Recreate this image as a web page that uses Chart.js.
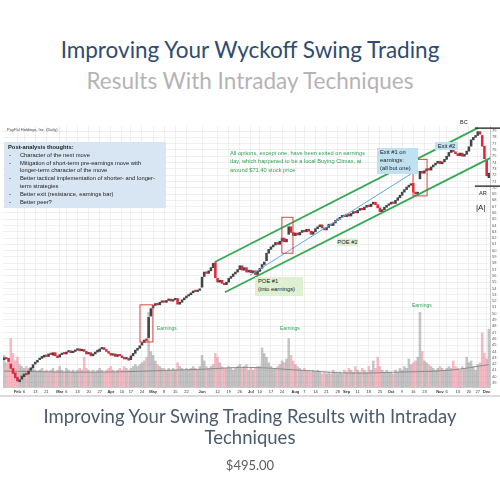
<!DOCTYPE html>
<html>
<head>
<meta charset="utf-8">
<script src="https://cdn.jsdelivr.net/npm/chart.js@4.4.0/dist/chart.umd.min.js"></script>
<style>
  body { margin: 0; width: 500px; height: 500px; background: #fff; position: relative; overflow: hidden; font-family: Lato, 'Open Sans', sans-serif; }
  .t { position: absolute; left: 0; width: 500px; text-align: center; white-space: nowrap; }
  #wrap { position: absolute; left: 0; top: 113px; width: 500px; height: 285px; }
  .note { position: absolute; font-family: 'Liberation Sans', Arial, sans-serif; font-size: 5.8px; line-height: 7.8px; color: #222; white-space: nowrap; }
  .green { color: #2f9e55; }
  .blue { background: #bfe1f1; }
  .lgreen { background: #dff0d2; }
</style>
</head>
<body>
<div class="t" style="top:35px;font-size:22.5px;line-height:30px;color:#2f4c6e;">Improving Your Wyckoff Swing Trading</div>
<div class="t" style="top:66px;font-size:22.5px;line-height:30px;color:#b4b4b4;">Results With Intraday Techniques</div>

<div id="wrap"><canvas id="myChart" width="500" height="285"></canvas></div>
<div style="position:absolute;left:0;top:395px;width:500px;height:2px;background:#dcdcdc;"></div>

<div class="note" style="left:7px;top:127px;font-size:4px;line-height:5px;color:#444;">PayPal Holdings, Inc. (Daily)</div>

<div class="note" style="left:4px;top:142px;width:162px;height:66px;background:#d8e5f2;padding-top:2px;box-sizing:border-box;">
  <div style="padding-left:4px;font-weight:bold;">Post-analysis thoughts:</div>
  <div style="padding-left:5px;">-<span style="padding-left:9px;">Character of the next move</span></div>
  <div style="padding-left:5px;">-<span style="padding-left:9px;">Mitigation of short-term pre-earnings move with</span></div>
  <div style="padding-left:16px;">longer-term character of the move</div>
  <div style="padding-left:5px;">-<span style="padding-left:9px;">Better tactical implementation of shorter- and longer-</span></div>
  <div style="padding-left:16px;">term strategies</div>
  <div style="padding-left:5px;">-<span style="padding-left:9px;">Better exit (resistance, earnings bar)</span></div>
  <div style="padding-left:5px;">-<span style="padding-left:9px;">Better peer?</span></div>
</div>

<div class="note green" style="left:230px;top:149px;font-size:5.7px;line-height:8.3px;">
  All options, except one, have been exited on earnings<br>
  day, which happened to be a local Buying Climax, at<br>
  around $71.40 stock price
</div>

<div class="note blue" style="left:377px;top:148px;width:41px;height:26px;padding:1px 0 0 3px;box-sizing:border-box;">Exit #1 on<br>earnings:<br>(all but one)</div>
<div class="note blue" style="left:435px;top:142px;width:23px;height:8px;line-height:8px;text-align:center;">Exit #2</div>
<div class="note lgreen" style="left:255px;top:277px;width:48px;height:19px;padding:1px 0 0 3px;box-sizing:border-box;">POE #1<br>(into earnings)</div>
<div class="note lgreen" style="left:337px;top:238px;width:21px;height:8px;line-height:8px;text-align:center;">POE #2</div>

<div class="note green" style="left:157px;top:325px;font-size:5px;">Earnings</div>
<div class="note green" style="left:280px;top:325px;font-size:5px;">Earnings</div>
<div class="note green" style="left:412px;top:302px;font-size:5px;">Earnings</div>

<div class="note" style="left:460px;top:119px;font-size:5.5px;">BC</div>
<div class="note" style="left:479px;top:190px;font-size:5.5px;">AR</div>
<div class="note" style="left:476px;top:203px;font-size:8px;line-height:10px;">|A|</div>

<div class="t" style="top:406px;font-size:18.5px;line-height:21px;color:#4b5b6e;">Improving Your Swing Trading Results with Intraday<br>Techniques</div>
<div class="t" style="top:457px;font-size:13px;line-height:16px;color:#5c5c5c;">$495.00</div>

<script>
// daily candles, Jan 24 .. Dec 4 (trading days)
const opens = [
  42.7,43.0,42.9,42.0,41.3,40.6,39.9,39.2,39.6,40.0,
  40.5,40.4,41.0,41.4,42.0,42.3,42.7,42.9,43.1,43.4,
  43.2,43.6,43.4,43.8,43.3,43.1,43.5,43.7,43.6,43.9,
  44.1,43.8,44.0,44.2,44.4,44.1,44.3,44.0,43.6,43.8,
  43.3,43.6,43.9,44.0,44.4,44.6,44.3,44.0,43.7,43.4,
  43.6,43.2,43.5,43.3,43.0,42.8,42.9,42.7,43.3,43.7,
  44.2,44.5,45.0,45.4,46.0,46.2,49.6,50.9,51.3,51.6,
  51.4,51.8,52.0,51.8,52.1,52.3,52.0,52.2,52.4,51.5,
  51.8,52.2,52.5,52.8,53.0,53.3,53.6,53.5,53.7,54.2,
  55.9,56.6,56.4,56.8,57.3,58.1,55.6,55.0,55.3,54.8,
  54.6,55.0,55.6,55.9,56.3,56.6,57.0,57.6,56.9,57.3,
  56.6,56.9,56.5,56.8,56.2,56.7,57.2,57.8,58.4,59.6,
  60.2,60.6,60.9,61.3,61.0,61.5,62.0,61.4,62.6,63.8,
  62.9,62.4,62.8,62.5,62.9,63.2,63.0,63.4,63.1,62.6,
  63.0,63.5,63.8,64.1,63.6,63.3,63.7,64.2,64.0,64.4,
  64.8,65.0,65.3,65.6,65.4,65.8,65.5,65.9,66.2,66.0,
  66.4,66.7,66.5,66.9,67.2,67.0,67.4,67.7,67.3,66.8,
  66.2,66.5,66.9,67.2,67.4,67.7,67.5,68.0,68.4,68.8,
  69.3,69.7,70.1,70.4,70.7,69.3,69.0,71.4,72.6,72.3,
  72.7,73.0,72.8,73.3,73.6,73.9,74.2,73.8,74.1,74.5,
  75.0,75.6,76.2,75.7,75.4,75.1,75.5,75.0,75.3,75.8,
  76.6,77.6,78.0,78.3,78.9,78.3,76.6,74.5,71.6
];
const closes = [
  43.0,42.8,42.4,41.3,40.5,39.8,39.3,39.5,40.1,40.4,
  40.3,40.9,41.4,41.9,42.3,42.6,42.9,43.2,43.4,43.2,
  43.6,43.5,43.8,43.3,43.0,43.5,43.7,43.6,43.9,44.1,
  43.8,44.0,44.2,44.4,44.1,44.3,44.0,43.6,43.8,43.3,
  43.6,43.9,44.2,44.4,44.6,44.3,44.0,43.7,43.4,43.6,
  43.2,43.5,43.3,43.0,42.8,42.9,42.6,43.3,43.7,44.2,
  44.5,44.9,45.4,45.8,45.7,49.4,50.8,51.3,51.6,51.4,
  51.8,52.0,51.8,52.1,52.3,52.0,52.2,52.4,51.5,51.8,
  52.2,52.5,52.8,53.0,53.3,53.6,53.5,53.7,53.9,55.8,
  56.6,56.4,56.8,57.3,58.0,55.7,55.0,55.3,54.8,54.6,
  55.0,55.6,55.9,56.3,56.6,57.0,57.6,56.9,57.3,56.6,
  56.9,56.5,56.8,56.2,56.7,57.2,57.8,58.2,59.6,60.2,
  60.6,60.9,61.3,61.0,61.5,62.0,61.4,61.8,63.8,62.9,
  62.4,62.8,62.5,62.9,63.2,63.0,63.4,63.1,62.6,63.0,
  63.5,63.8,64.1,63.6,63.3,63.7,64.2,64.0,64.4,64.8,
  65.0,65.3,65.6,65.4,65.8,65.5,65.9,66.2,66.0,66.4,
  66.7,66.5,66.9,67.2,67.0,67.4,67.7,67.3,66.8,66.2,
  66.5,66.9,67.2,67.4,67.7,67.5,68.0,68.4,68.8,69.3,
  69.7,70.1,70.4,70.6,69.3,69.0,69.3,72.6,72.3,72.7,
  73.0,72.8,73.3,73.6,73.9,74.2,73.8,74.1,74.5,75.0,
  75.6,76.2,75.7,75.4,75.1,75.5,75.0,75.3,75.8,76.5,
  77.6,78.0,78.3,78.9,78.5,76.6,74.6,71.9,72.3
];
// volume, millions
const volumes = [
  17,13,14,26,18,14,16,12,11,10,
  11,10,9,10,9,8,9,10,8,9,
  8,9,10,8,9,11,9,8,10,9,
  8,9,8,9,10,9,16,10,9,8,
  9,8,9,10,9,8,9,10,11,9,
  8,9,10,9,11,10,9,10,11,12,
  11,12,13,14,16,40,19,17,14,12,
  11,10,10,9,10,9,10,9,13,11,
  10,9,10,9,10,11,10,9,11,17,
  14,11,10,11,12,18,16,13,11,10,
  10,11,10,9,10,11,12,10,11,12,
  9,10,9,10,11,11,21,18,16,13,
  11,10,10,11,12,14,13,15,26,17,
  14,12,11,10,9,10,9,9,8,9,
  8,9,8,7,8,7,8,7,9,8,
  7,8,7,9,8,10,9,8,11,9,
  8,10,9,8,11,9,14,10,16,11,
  9,8,9,8,8,7,9,8,10,9,
  11,10,15,12,13,14,16,40,19,14,
  13,12,11,10,9,10,11,10,9,10,
  11,10,14,11,10,9,11,10,16,13,
  14,11,9,12,13,29,18,15,31
];
// volume moving average, read at a few days
const volAvgIdx = [0, 43, 88, 110, 133, 155, 178, 200, 218];
const volAvg = [8.5, 8, 9.5, 10.5, 9, 7.5, 8, 9, 12];

// x axis labels (trading day index)
const tickIdx = [6,9,14,19,25,28,33,38,43,48,53,57,62,67,72,77,82,89,96,101,106,111,115,120,125,131,135,140,145,150,154,159,164,169,174,179,184,189,196,199,204,209,213,217];
const tickText = ['Feb','6','13','21','Mar','6','13','20','27','Apr','10','17','24','May','8','15','22','Jun','12','19','26','Jul','10','17','24','Aug','7','14','21','28','Sep','11','18','25','Oct','9','16','23','Nov','6','13','20','27','Dec'];
const monthNames = ['Feb','Mar','Apr','May','Jun','Jul','Aug','Sep','Oct','Nov','Dec'];

// drawn annotations (day index, price)
const channelUpper = [[94.8, 58.2], [213.1, 79.5]];
const channelLower = [[99.3, 53.4], [218.5, 74.7]];
const blueLine = [[110.6, 56.1], [185.7, 72.8]];
const earningsBoxes = [[61.1, 66.9, 45.5, 51.4], [124.9, 129.9, 59.6, 65.3], [183.9, 190.2, 68.7, 74.5]];
const rangeLines = [79.46, 70.25];

const days = closes.map((c, i) => i);
const isDown = days.map(i => closes[i] < opens[i]);

const toPts = arr => arr.map(p => ({ x: p[0], y: p[1] }));
const trend = (pts, color, w) => ({
    type: 'line', data: toPts(pts), borderColor: color, borderWidth: w,
    pointRadius: 0, yAxisID: 'y', order: 0, clip: false
});

const marks = {
    id: 'marks',
    afterDatasetsDraw(chart) {
        const { ctx, scales: { x, y } } = chart;
        ctx.save();
        ctx.strokeStyle = '#d9453f';
        ctx.lineWidth = 1;
        earningsBoxes.forEach(b => {
            const l = x.getPixelForValue(b[0]), r = x.getPixelForValue(b[1]);
            const t = y.getPixelForValue(b[3]), bt = y.getPixelForValue(b[2]);
            ctx.strokeRect(l, t, r - l, bt - t);
        });
        ctx.strokeStyle = '#3c3c3c';
        ctx.lineWidth = 1.5;
        rangeLines.forEach(p => {
            const yy = y.getPixelForValue(p);
            ctx.beginPath();
            ctx.moveTo(x.getPixelForValue(211.7), yy);
            ctx.lineTo(chart.width, yy);
            ctx.stroke();
        });
        ctx.restore();
    }
};

new Chart(document.getElementById('myChart'), {
    type: 'bar',
    data: {
        datasets: [
            {
                type: 'bar', label: 'Price',
                data: days.map(i => ({ x: i, y: [opens[i], closes[i]] })),
                backgroundColor: isDown.map(d => d ? '#e0283c' : '#444444'),
                barThickness: 1.9, minBarLength: 1.5, grouped: false, yAxisID: 'y', order: 1
            },
            {
                type: 'line', label: 'Vol avg',
                data: volAvgIdx.map((d, k) => ({ x: d, y: volAvg[k] })),
                borderColor: '#8a8a8a', borderWidth: 1, pointRadius: 0, tension: 0.4,
                yAxisID: 'v', order: 3
            },
            {
                type: 'bar', label: 'Volume',
                data: days.map(i => ({ x: i, y: volumes[i] })),
                backgroundColor: isDown.map(d => d ? 'rgba(236,130,148,0.55)' : 'rgba(140,140,140,0.5)'),
                barThickness: 1.9, grouped: false, yAxisID: 'v', order: 4
            },
            trend(channelUpper, '#35a853', 1.8),
            trend(channelLower, '#35a853', 1.8),
            trend(blueLine, '#5aa9e6', 1)
        ]
    },
    options: {
        responsive: false,
        animation: false,
        layout: { padding: { left: 3, top: 13, right: 0, bottom: 0 } },
        plugins: { legend: { display: false }, tooltip: { enabled: false } },
        scales: {
            x: {
                type: 'linear', min: -0.5, max: 218.5, offset: false,
                grid: { color: '#e4e4e4', lineWidth: 0.6, drawTicks: false, offset: false },
                border: { color: '#c8c8c8' },
                ticks: {
                    autoSkip: false, maxRotation: 0, padding: 2, color: '#333',
                    font: ctx => ({ size: 4, family: 'Liberation Sans', weight: monthNames.includes(tickText[tickIdx.indexOf(ctx.tick && ctx.tick.value)]) ? 'bold' : 'normal' }),
                    callback: v => { const k = tickIdx.indexOf(v); return k >= 0 ? tickText[k] : ''; }
                },
                afterBuildTicks: s => { s.ticks = tickIdx.map(v => ({ value: v })); },
                afterFit: s => { s.height = 11; }
            },
            y: {
                position: 'right', min: 38.35, max: 79.8,
                grid: { color: '#e6e6e6', lineWidth: 0.6, drawTicks: false },
                border: { color: '#c8c8c8' },
                ticks: {
                    stepSize: 1, includeBounds: false, autoSkip: false, maxTicksLimit: 100,
                    padding: 2, color: '#555', font: { size: 4, family: 'Liberation Sans' }
                },
                afterFit: s => { s.width = 10; }
            },
            v: { display: false, min: 0, max: 140 }
        }
    },
    plugins: [marks]
});
</script>
</body>
</html>
